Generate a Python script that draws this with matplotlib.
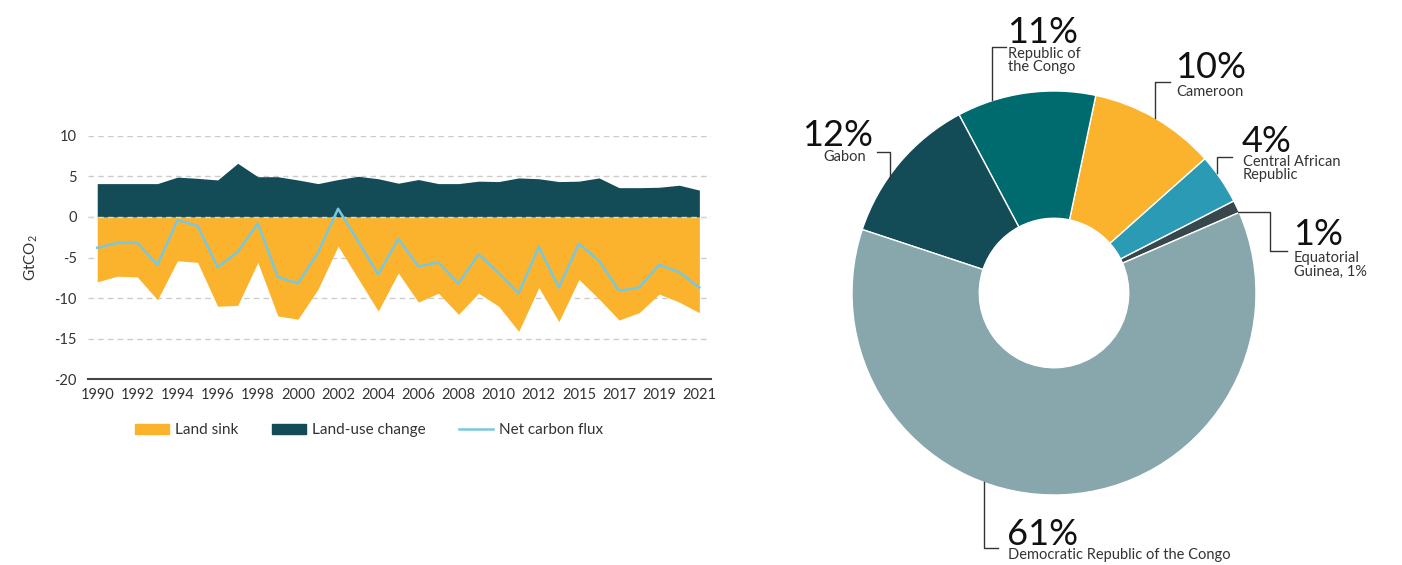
import matplotlib
matplotlib.use("Agg")
import matplotlib.pyplot as plt
from matplotlib.patches import Patch
from matplotlib.lines import Line2D

plt.rcParams["font.family"] = ["Lato", "DejaVu Sans"]
plt.rcParams["mathtext.default"] = "regular"

# datos del gráfico de áreas
years = list(range(1990, 2013)) + list(range(2014, 2022))
land_use = [4.1, 4.1, 4.1, 4.1, 4.9, 4.75, 4.55, 6.6, 4.95, 4.95, 4.55, 4.1, 4.6,
            5.0, 4.7, 4.15, 4.6, 4.1, 4.1, 4.4, 4.35, 4.8, 4.7, 4.35, 4.4, 4.8,
            3.6, 3.6, 3.65, 3.9, 3.3]
land_sink = [-8.0, -7.3, -7.4, -10.2, -5.4, -5.6, -11.0, -10.9, -5.6, -12.2, -12.6,
             -8.9, -3.6, -7.6, -11.6, -6.9, -10.5, -9.4, -12.0, -9.4, -11.0, -14.1,
             -8.7, -12.9, -7.7, -10.1, -12.7, -11.8, -9.5, -10.5, -11.8]
net_flux = [-3.8, -3.2, -3.2, -5.9, -0.4, -1.1, -6.2, -4.3, -0.8, -7.4, -8.2, -4.4,
            1.0, -3.0, -7.1, -2.7, -6.1, -5.6, -8.2, -4.6, -6.9, -9.4, -3.7, -8.7,
            -3.3, -5.4, -9.1, -8.7, -5.9, -6.8, -8.7]
y_ticks = [10, 5, 0, -5, -10, -15, -20]

# datos del donut
countries = ["Equatorial\nGuinea, 1%", "Central African\nRepublic", "Cameroon",
             "Republic of\nthe Congo", "Gabon", "Democratic Republic of the Congo"]
shares = [1, 4, 10, 11, 12, 61]
pie_colors = ["#37474c", "#2b9bb5", "#fbb32d", "#006b6e", "#134b57", "#87a7ad"]

ORANGE = "#fbb32d"
DARK = "#134b57"
LIGHT = "#79c7df"
TXT = "#333333"

fig = plt.figure(figsize=(14.02, 5.65), dpi=100)
W, H = 1402, 565

ax = fig.add_axes([88 / W, 1 - 379.3 / H, (711 - 88) / W, (379.3 - 135.7) / H])
x = list(range(len(years)))
ax.fill_between(x, 0, land_sink, color=ORANGE, lw=0, zorder=2)
ax.fill_between(x, 0, land_use, color=DARK, lw=0, zorder=2)
ax.axhline(0, color="#d8d8d8", lw=1, ls=(0, (4, 3)), zorder=3)
ax.plot(x, net_flux, color=LIGHT, lw=1.8, zorder=4)

ax.set_xlim(-0.46, 30.58)
ax.set_ylim(-20, 10)
ax.set_yticks(y_ticks)
ax.set_yticklabels([str(v) for v in y_ticks])
ax.set_xticks(x[::2])
ax.set_xticklabels([str(y) for y in years[::2]])
ax.tick_params(length=0, labelsize=10.5, colors=TXT, pad=6)
ax.tick_params(axis="y", pad=8)
for v in y_ticks[:-1]:
    ax.axhline(v, color="#cccccc", lw=1, ls=(0, (4, 3)), zorder=1)
for s in ["top", "right", "left"]:
    ax.spines[s].set_visible(False)
ax.spines["bottom"].set_color("#444444")
ax.spines["bottom"].set_linewidth(1.5)
ax.set_ylabel("GtCO$_2$", fontsize=11, color=TXT, labelpad=10)

handles = [Patch(color=ORANGE), Patch(color=DARK), Line2D([], [], color=LIGHT, lw=1.8)]
fig.legend(handles, ["Land sink", "Land-use change", "Net carbon flux"],
           loc="center", bbox_to_anchor=(369 / W, 1 - 430 / H), ncol=3, frameon=False,
           fontsize=11, handlelength=2.2, handleheight=0.65, handletextpad=0.4,
           columnspacing=2.2, labelcolor=TXT)

# donut
r = 202
pax = fig.add_axes([(1054 - r) / W, 1 - (293 + r) / H, 2 * r / W, 2 * r / H])
pax.pie(shares, colors=pie_colors, startangle=23.5, counterclock=True,
        wedgeprops=dict(width=0.63, edgecolor="white", linewidth=1))
pax.set_xlim(-1, 1)
pax.set_ylim(-1, 1)

# etiquetas del donut
ov = fig.add_axes([0, 0, 1, 1], zorder=5)
ov.set_xlim(0, W)
ov.set_ylim(H, 0)
ov.axis("off")
lc = "#333333"
labels = [
    # pct, x, baseline, name, name_top, leader
    ("1%", 1293, 245, countries[0], 251, [(1238, 212), (1270, 212), (1270, 251), (1287, 251)]),
    ("4%", 1242, 152, countries[1], 155, [(1217, 173), (1217, 157), (1232, 157)]),
    ("10%", 1175, 78, countries[2], 85, [(1155, 118), (1155, 82), (1170, 82)]),
    ("11%", 1007, 43, countries[3], 47, [(992, 100), (992, 47), (1006, 47)]),
    ("12%", 873, 146, countries[4], 150, [(890, 178), (890, 152), (877, 152)]),
    ("61%", 1007, 545, countries[5], 548, [(984, 482), (984, 548), (998, 548)]),
]
for pct, tx, base, name, ntop, pts in labels:
    ha = "right" if pct == "12%" else "left"
    ov.text(tx, base, pct, fontsize=26, ha=ha, va="baseline", color="#111111")
    nx = 866 if pct == "12%" else tx + 1
    ov.text(nx, ntop, name, fontsize=10.5, ha=ha, va="top", color=TXT, linespacing=0.95)
    ov.plot([p[0] for p in pts], [p[1] for p in pts], color=lc, lw=1)

fig.savefig("out.png", dpi=100)
